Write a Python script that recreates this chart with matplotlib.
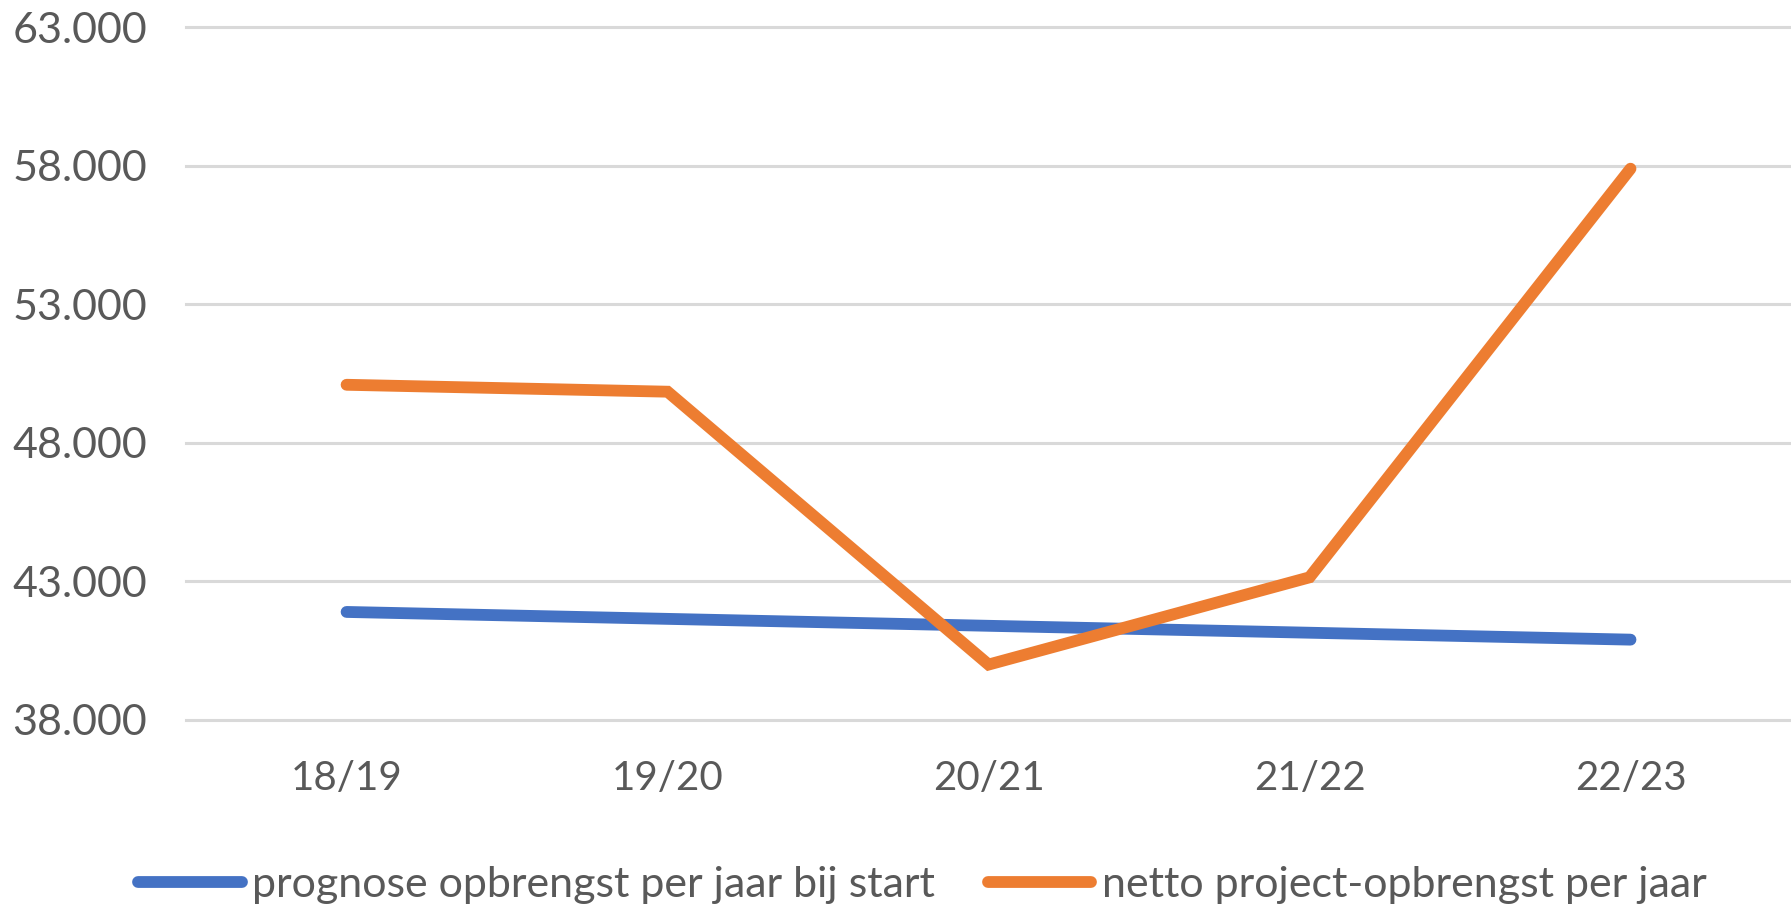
import matplotlib
matplotlib.use('Agg')
import matplotlib.pyplot as plt
from matplotlib.ticker import FuncFormatter

# data
seasons = ['18/19', '19/20', '20/21', '21/22', '22/23']
prognose = [41900, 41650, 41400, 41150, 40900]
netto = [50100, 49850, 40000, 43150, 57900]
y_ticks = [38000, 43000, 48000, 53000, 58000, 63000]

label_prognose = 'prognose opbrengst per jaar bij start'
label_netto = 'netto project-opbrengst per jaar'

text_color = '#595959'
grid_color = '#D9D9D9'
plt.rcParams['font.family'] = ['Lato', 'DejaVu Sans']

fig = plt.figure(figsize=(17.91, 9.10), dpi=100)
ax = fig.add_axes([0.1039, 0.2088, 0.8961, 0.7611])

x = list(range(len(seasons)))
for t in y_ticks:
    ax.axhline(t, color=grid_color, linewidth=2.2, zorder=0, clip_on=False)

ax.plot(x, prognose, color='#4472C4', linewidth=8.5, solid_capstyle='round',
        solid_joinstyle='miter', label=label_prognose, zorder=3)
ax.plot(x, netto, color='#ED7D31', linewidth=8.5, solid_capstyle='round',
        solid_joinstyle='miter', label=label_netto, zorder=3)

ax.set_xlim(-0.5, len(seasons) - 0.5)
ax.set_ylim(y_ticks[0], y_ticks[-1])
ax.set_xticks(x)
ax.set_xticklabels(seasons)
ax.set_yticks(y_ticks)
ax.yaxis.set_major_formatter(FuncFormatter(lambda v, p: f'{int(v):,}'.replace(',', '.')))
ax.tick_params(axis='both', length=0, colors=text_color)
ax.tick_params(axis='y', pad=28, labelsize=31)
ax.tick_params(axis='x', pad=29, labelsize=29)
for s in ax.spines.values():
    s.set_visible(False)

fig.legend(loc='center', bbox_to_anchor=(0.515, 0.027), ncol=2, frameon=False,
           fontsize=31, labelcolor=text_color, handlelength=2.41,
           handletextpad=0.24, columnspacing=1.22)

fig.savefig('out.png', dpi=100)
